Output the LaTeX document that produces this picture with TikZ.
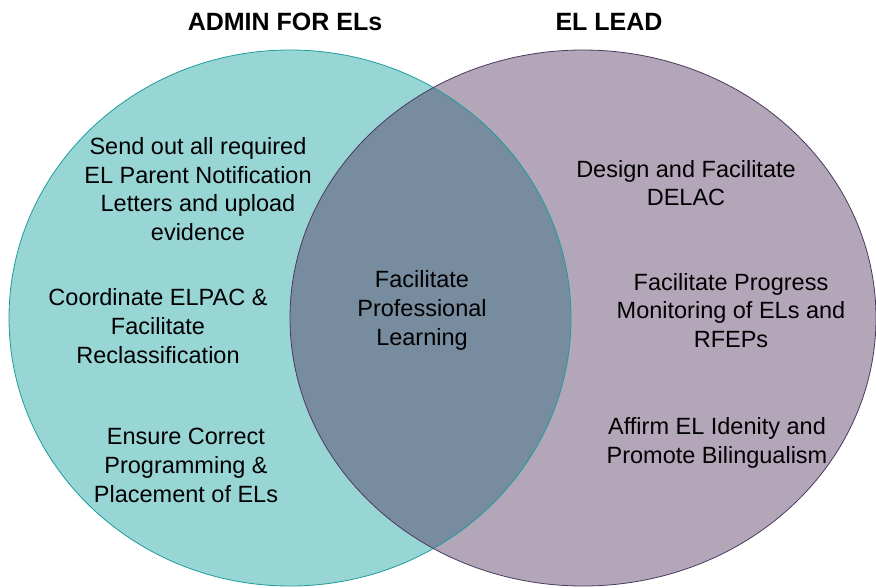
\documentclass[tikz,border=0pt]{standalone}
\usepackage{fontspec}
\setmainfont{Liberation Sans}
\definecolor{tealfill}{HTML}{98D6D6}
\definecolor{tealline}{HTML}{1E9C9C}
\definecolor{plumfill}{HTML}{B4A6B9}
\definecolor{plumline}{HTML}{4A3A5E}
\definecolor{overlapfill}{HTML}{788CA0}
\begin{document}
\begin{tikzpicture}[x=1pt,y=-1pt,
  txt/.style={align=center,inner sep=0pt,font=\fontsize{23.5}{28.6}\selectfont},
  head/.style={inner sep=0pt,font=\bfseries\fontsize{25}{30}\selectfont},
  oval/.style={x radius=281pt,y radius=268pt},
  wideoval/.style={x radius=293pt,y radius=268pt}]
\useasboundingbox (0,0) rectangle (876,587);
% the two sets
\fill[tealfill] (290,318) ellipse [oval];
\fill[plumfill] (583,318) ellipse [wideoval];
\begin{scope}
  \clip (290,318) ellipse [oval];
  \fill[overlapfill] (583,318) ellipse [wideoval];
\end{scope}
\draw[tealline,line width=0.8pt] (290,318) ellipse [oval];
\draw[plumline,line width=0.8pt] (583,318) ellipse [wideoval];
% titles
\node[head] (admin) at (285,22) {ADMIN FOR ELs};
\node[head] (lead) at (609,22) {EL LEAD};
% left set
\node[txt] (letters) at (198,189) {Send out all required\\EL Parent Notification\\Letters and upload\\evidence};
\node[txt] (elpac) at (158,326) {Coordinate ELPAC \&\\Facilitate\\Reclassification};
\node[txt] (placement) at (186,465.5) {Ensure Correct\\Programming \&\\Placement of ELs};
% both
\node[txt] (learning) at (422,310.5) {Facilitate\\Professional\\Learning};
% right set
\node[txt] (delac) at (686,183) {Design and Facilitate\\DELAC};
\node[txt] (progress) at (731,310.5) {Facilitate Progress\\Monitoring of ELs and\\RFEPs};
\node[txt] (identity) at (717,443) {Affirm EL Idenity and\\Promote Bilingualism};
\end{tikzpicture}
\end{document}
